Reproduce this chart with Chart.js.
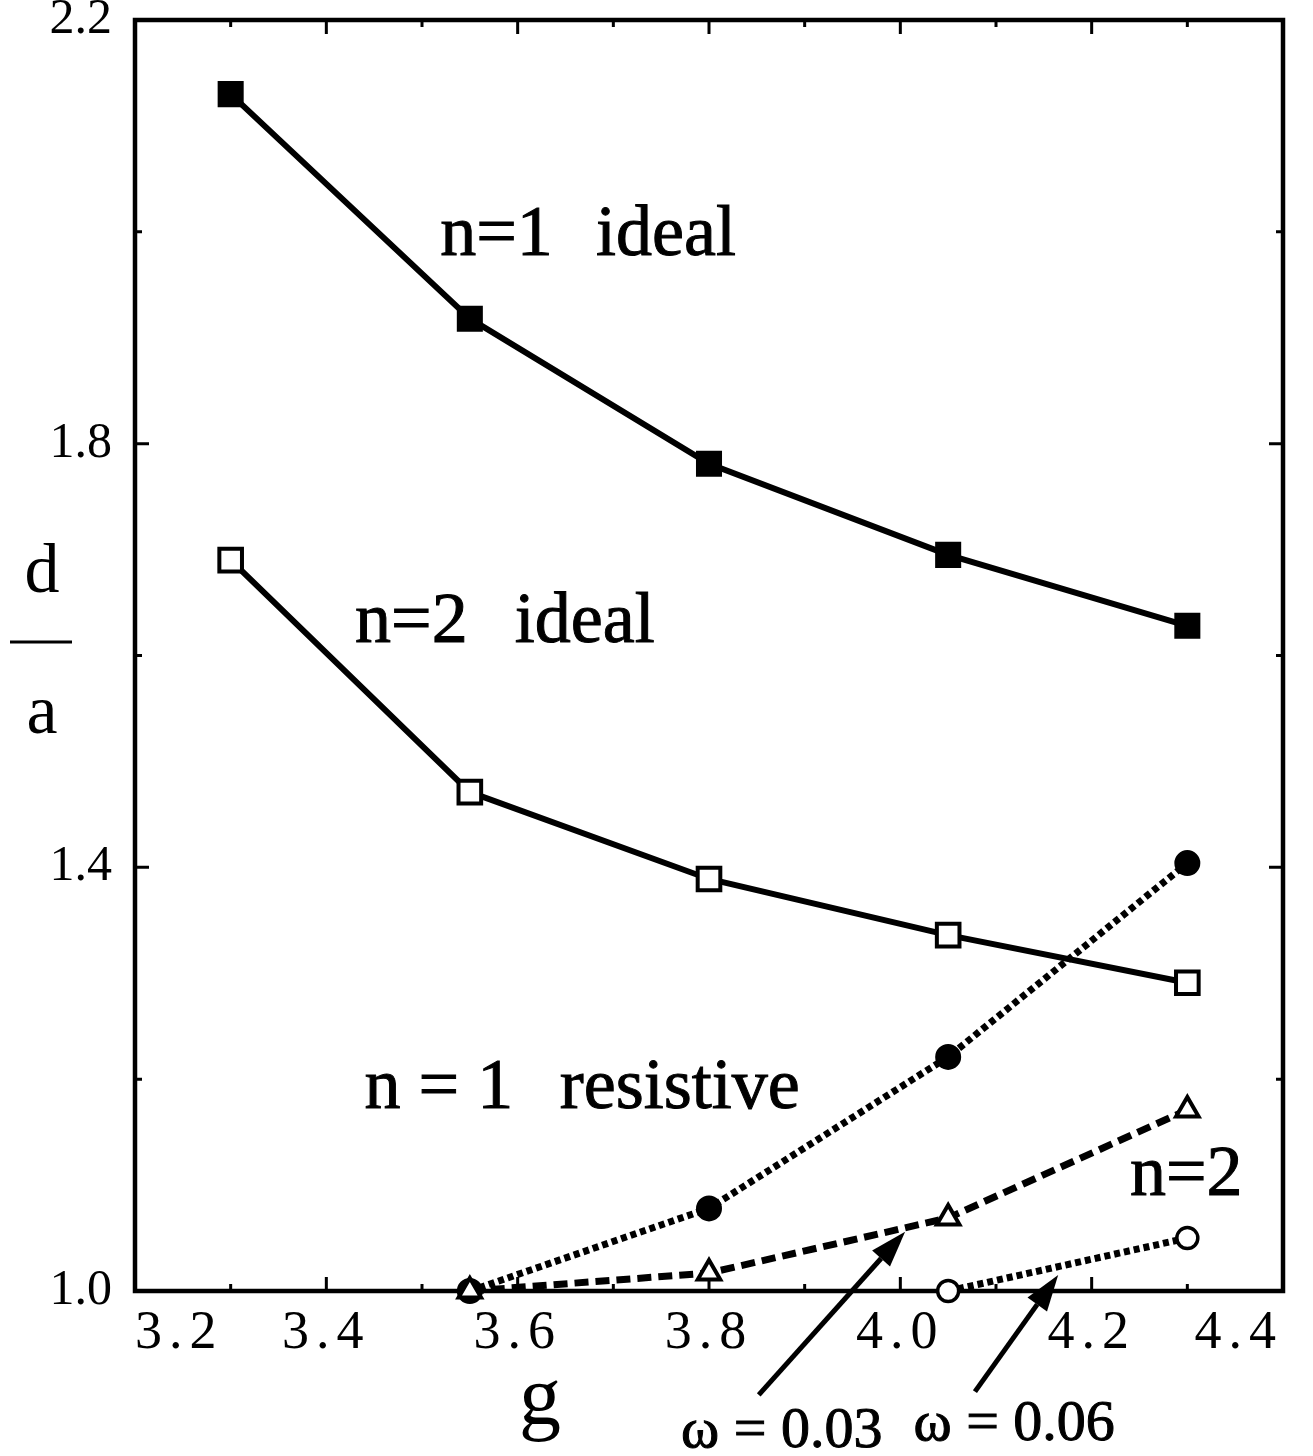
<!DOCTYPE html>
<html>
<head>
<meta charset="utf-8">
<title>d/a against g</title>
<script src="https://cdn.jsdelivr.net/npm/chart.js@4.4.1/dist/chart.umd.min.js"></script>
<style>
  html, body { margin: 0; padding: 0; background: #fff; }
  #chart { display: block; }
</style>
</head>
<body>
<canvas id="chart" width="1313" height="1456"></canvas>
<script>
// --- data ---
const gIdeal = [3.3, 3.55, 3.8, 4.05, 4.3];
const gResist = [3.55, 3.8, 4.05, 4.3];
const gResist06 = [4.05, 4.3];

const n1Ideal = [2.13, 1.918, 1.781, 1.695, 1.628];
const n2Ideal = [1.69, 1.471, 1.389, 1.336, 1.291];
const n1Resist = [1.0, 1.078, 1.221, 1.404];
const n2Resist03 = [1.0, 1.017, 1.069, 1.171];
const n2Resist06 = [1.0, 1.05];

const xRange = [3.2, 4.4];
const yRange = [1.0, 2.2];

// text labels inside the plot, placed in data units [g, d/a]
const notes = [
  { text: 'n=1', at: [3.519, 1.978] },
  { text: 'ideal', at: [3.682, 1.978] },
  { text: 'n=2', at: [3.430, 1.613] },
  { text: 'ideal', at: [3.597, 1.613] },
  { text: 'n = 1', at: [3.440, 1.173] },
  { text: 'resistive', at: [3.644, 1.173] },
  { text: 'n=2', at: [4.240, 1.091] }
];
const omegaNotes = [
  { text: 'ω = 0.03', at: [3.876, 0.853] },
  { text: 'ω = 0.06', at: [4.119, 0.859] }
];
const arrows = [
  { from: [3.852, 0.902], to: [4.005, 1.056] },
  { from: [4.078, 0.905], to: [4.165, 1.015] }
];

const SERIF = '"Liberation Serif", "Times New Roman", serif';

function pts(xs, ys) {
  return xs.map((x, i) => ({ x: x, y: ys[i] }));
}

const near = (a, b) => Math.abs(a - b) < 1e-6;

// wider letter spacing on the g tick labels
const spacedXLabels = {
  id: 'spacedXLabels',
  afterLayout(chart) {
    const sx = chart.scales.x;
    if (sx._spaced) return;
    const draw = sx.drawLabels.bind(sx);
    sx.drawLabels = (area) => {
      chart.ctx.save();
      chart.ctx.letterSpacing = '7px';
      draw(area);
      chart.ctx.restore();
    };
    sx._spaced = true;
  }
};

// box with inward ticks on all four sides
const frame = {
  id: 'frame',
  beforeDatasetsDraw(chart) {
    const { ctx, chartArea: a, scales: { x, y } } = chart;
    ctx.save();
    ctx.strokeStyle = '#000';
    ctx.lineWidth = 4.5;
    ctx.strokeRect(a.left, a.top, a.right - a.left, a.bottom - a.top);
    ctx.lineWidth = 3;
    ctx.beginPath();
    x.ticks.forEach(t => {
      if (near(t.value, xRange[0]) || near(t.value, xRange[1])) return;
      const p = x.getPixelForValue(t.value);
      const len = t.label ? 14 : 7;
      ctx.moveTo(p, a.bottom); ctx.lineTo(p, a.bottom - len);
      ctx.moveTo(p, a.top); ctx.lineTo(p, a.top + len);
    });
    y.ticks.forEach(t => {
      if (near(t.value, yRange[0]) || near(t.value, yRange[1])) return;
      const p = y.getPixelForValue(t.value);
      const len = t.label ? 14 : 7;
      ctx.moveTo(a.left, p); ctx.lineTo(a.left + len, p);
      ctx.moveTo(a.right, p); ctx.lineTo(a.right - len, p);
    });
    ctx.stroke();
    ctx.restore();
  }
};

// texts, arrows and axis titles
const labels = {
  id: 'labels',
  afterDatasetsDraw(chart) {
    const { ctx, scales: { x, y } } = chart;
    const px = v => x.getPixelForValue(v);
    const py = v => y.getPixelForValue(v);
    ctx.save();
    ctx.fillStyle = '#000';
    ctx.strokeStyle = '#000';
    ctx.textBaseline = 'alphabetic';
    ctx.lineWidth = 1;

    ctx.font = '72px ' + SERIF;
    ctx.textAlign = 'left';
    notes.forEach(n => {
      ctx.fillText(n.text, px(n.at[0]), py(n.at[1]));
      ctx.strokeText(n.text, px(n.at[0]), py(n.at[1]));
    });

    ctx.font = '58px ' + SERIF;
    ctx.textAlign = 'center';
    omegaNotes.forEach(n => {
      ctx.fillText(n.text, px(n.at[0]), py(n.at[1]));
      ctx.strokeText(n.text, px(n.at[0]), py(n.at[1]));
    });

    ctx.lineWidth = 5;
    arrows.forEach(ar => {
      const x0 = px(ar.from[0]), y0 = py(ar.from[1]);
      const x1 = px(ar.to[0]), y1 = py(ar.to[1]);
      const ang = Math.atan2(y1 - y0, x1 - x0);
      const hl = 36, hw = 12;
      const bx = x1 - hl * Math.cos(ang), by = y1 - hl * Math.sin(ang);
      ctx.beginPath();
      ctx.moveTo(x0, y0);
      ctx.lineTo(bx, by);
      ctx.stroke();
      ctx.beginPath();
      ctx.moveTo(x1, y1);
      ctx.lineTo(bx + hw * Math.sin(ang), by - hw * Math.cos(ang));
      ctx.lineTo(bx - hw * Math.sin(ang), by + hw * Math.cos(ang));
      ctx.closePath();
      ctx.fill();
    });

    // y title: d over a
    ctx.font = '70px ' + SERIF;
    ctx.textAlign = 'center';
    ctx.fillText('d', 42, 592);
    ctx.fillText('a', 42, 733);
    ctx.lineWidth = 3;
    ctx.beginPath();
    ctx.moveTo(10, 642);
    ctx.lineTo(72, 642);
    ctx.stroke();

    // x title
    ctx.font = '84px ' + SERIF;
    ctx.fillText('g', 540, 1424);
    ctx.restore();
  }
};

const ctx = document.getElementById('chart').getContext('2d');
new Chart(ctx, {
  type: 'line',
  data: {
    datasets: [
      {
        label: 'n=2 resistive, ω = 0.03',
        data: pts(gResist, n2Resist03),
        borderColor: '#000',
        borderWidth: 7,
        borderDash: [14, 7],
        pointStyle: 'triangle',
        pointRadius: 13,
        pointBackgroundColor: '#fff',
        pointBorderColor: '#000',
        pointBorderWidth: 4
      },
      {
        label: 'n=2 resistive, ω = 0.06',
        data: pts(gResist06, n2Resist06),
        borderColor: '#000',
        borderWidth: 7,
        borderDash: [6, 4],
        pointStyle: 'circle',
        pointRadius: 10.5,
        pointBackgroundColor: '#fff',
        pointBorderColor: '#000',
        pointBorderWidth: 3.5
      },
      {
        label: 'n=1 resistive',
        data: pts(gResist, n1Resist),
        borderColor: '#000',
        borderWidth: 7,
        borderDash: [6, 4],
        pointStyle: 'circle',
        pointRadius: 12,
        pointBackgroundColor: '#000',
        pointBorderColor: '#000',
        pointBorderWidth: 2
      },
      {
        label: 'n=2 ideal',
        data: pts(gIdeal, n2Ideal),
        borderColor: '#000',
        borderWidth: 6,
        pointStyle: 'rect',
        pointRadius: 16,
        pointBackgroundColor: '#fff',
        pointBorderColor: '#000',
        pointBorderWidth: 4
      },
      {
        label: 'n=1 ideal',
        data: pts(gIdeal, n1Ideal),
        borderColor: '#000',
        borderWidth: 6,
        pointStyle: 'rect',
        pointRadius: 17,
        pointBackgroundColor: '#000',
        pointBorderColor: '#000',
        pointBorderWidth: 2
      }
    ].map(d => Object.assign(d, { fill: false, tension: 0, clip: false }))
  },
  options: {
    responsive: false,
    animation: false,
    events: [],
    layout: { autoPadding: false, padding: { top: 0, right: 30, left: 0, bottom: 0 } },
    plugins: { legend: { display: false }, tooltip: { enabled: false } },
    scales: {
      x: {
        type: 'linear',
        min: xRange[0],
        max: xRange[1],
        grid: { display: false },
        border: { display: false },
        afterFit: s => { s.height = 165; },
        ticks: {
          stepSize: 0.1,
          autoSkip: false,
          maxRotation: 0,
          minRotation: 0,
          align: 'inner',
          padding: 2,
          color: '#000',
          font: { family: SERIF, size: 54 },
          callback: v => (Math.round(v * 10) % 2 === 0 ? v.toFixed(1) : '')
        }
      },
      y: {
        type: 'linear',
        min: yRange[0],
        max: yRange[1],
        grid: { display: false },
        border: { display: false },
        afterFit: s => { s.width = 135; },
        ticks: {
          stepSize: 0.2,
          autoSkip: false,
          padding: 15,
          color: '#000',
          font: { family: SERIF, size: 50, lineHeight: 0.2 },
          callback: v => ((Math.round(v * 10) - 10) % 4 === 0 ? v.toFixed(1) : '')
        }
      }
    }
  },
  plugins: [spacedXLabels, frame, labels]
});
</script>
</body>
</html>
